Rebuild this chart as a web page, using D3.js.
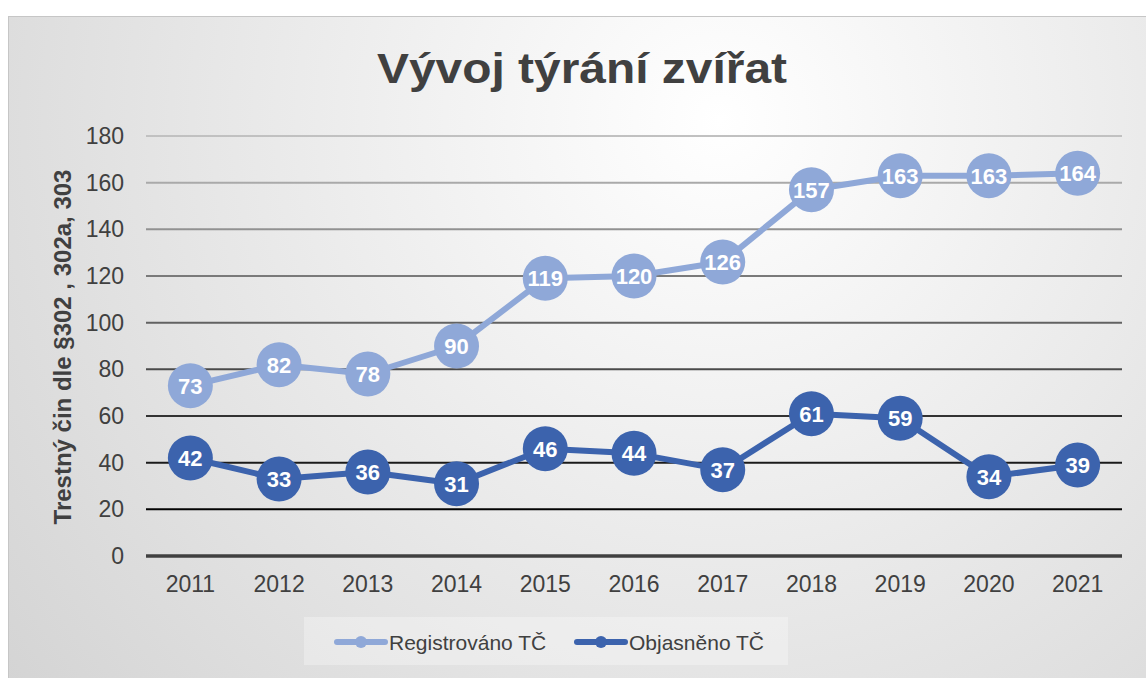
<!DOCTYPE html>
<html>
<head>
<meta charset="utf-8">
<script src="https://cdn.jsdelivr.net/npm/d3@7"></script>
<style>
  body { margin: 0; background: #fff; }
  svg { display: block; font-family: "Liberation Sans", Arial, sans-serif; }
</style>
</head>
<body>
<svg id="chart" width="1146" height="678"></svg>
<script>
// data
const years = ["2011", "2012", "2013", "2014", "2015", "2016", "2017", "2018", "2019", "2020", "2021"];
const registered = [73, 82, 78, 90, 119, 120, 126, 157, 163, 163, 164];
const solved = [42, 33, 36, 31, 46, 44, 37, 61, 59, 34, 39];
const yTicks = [0, 20, 40, 60, 80, 100, 120, 140, 160, 180];
const seriesNames = ["Registrováno TČ", "Objasněno TČ"];
const seriesColors = ["#8fa8d8", "#3c63ad"];

const svg = d3.select("#chart");
const W = 1146, H = 678;
const font = "Liberation Sans, Arial, sans-serif";

// background
const defs = svg.append("defs");
const bg = defs.append("radialGradient")
  .attr("id", "bg")
  .attr("gradientUnits", "userSpaceOnUse")
  .attr("cx", 720).attr("cy", 120).attr("r", 950);
bg.append("stop").attr("offset", "0").attr("stop-color", "#ffffff");
bg.append("stop").attr("offset", "1").attr("stop-color", "#d2d2d2");

const gridGrad = defs.append("linearGradient")
  .attr("id", "gridGrad")
  .attr("gradientUnits", "userSpaceOnUse")
  .attr("x1", 0).attr("x2", 0).attr("y1", 130).attr("y2", 515);
gridGrad.append("stop").attr("offset", "0").attr("stop-color", "#c4c4c4");
gridGrad.append("stop").attr("offset", "1").attr("stop-color", "#000000");

svg.append("rect")
  .attr("x", 8.5).attr("y", 16.5)
  .attr("width", W - 8).attr("height", H)
  .attr("fill", "url(#bg)")
  .attr("stroke", "#c6c6c6");

// scales
const x = d3.scaleBand().domain(years).range([146, 1122]);
const y = d3.scaleLinear().domain([0, 180]).range([556, 136]);

// title
svg.append("text")
  .attr("x", 377).attr("y", 83)
  .attr("font-size", 42).attr("font-weight", "bold")
  .attr("textLength", 410).attr("lengthAdjust", "spacingAndGlyphs")
  .attr("fill", "#404040")
  .text("Vývoj týrání zvířat");

// grid
svg.append("g")
  .selectAll("line")
  .data(yTicks.filter(d => d > 0))
  .join("line")
  .attr("x1", 146).attr("x2", 1122)
  .attr("y1", d => y(d)).attr("y2", d => y(d) + 0.01)
  .attr("stroke", "url(#gridGrad)")
  .attr("stroke-width", 2);

svg.append("line")
  .attr("x1", 146).attr("x2", 1122)
  .attr("y1", y(0)).attr("y2", y(0))
  .attr("stroke", "#404040")
  .attr("stroke-width", 3.5);

// axes
const yAxis = svg.append("g")
  .attr("transform", "translate(124,0)")
  .call(d3.axisLeft(y).tickValues(yTicks).tickSize(0).tickPadding(0));
yAxis.select(".domain").remove();
yAxis.selectAll("text")
  .attr("font-size", 23).attr("fill", "#404040")
  .attr("font-family", font);

const xAxis = svg.append("g")
  .attr("transform", "translate(0," + y(0) + ")")
  .call(d3.axisBottom(x).tickSize(0).tickPadding(20));
xAxis.select(".domain").remove();
xAxis.selectAll("text")
  .attr("font-size", 23).attr("fill", "#404040")
  .attr("font-family", font);

// y axis title
svg.append("text")
  .attr("transform", "translate(71,347) rotate(-90)")
  .attr("text-anchor", "middle")
  .attr("font-size", 24).attr("font-weight", "bold")
  .attr("fill", "#404040")
  .text("Trestný čin dle §302 , 302a, 303");

// series
const cx = d => x(d) + x.bandwidth() / 2;
const line = d3.line().x((d, i) => cx(years[i])).y(d => y(d));

[registered, solved].forEach((vals, s) => {
  const g = svg.append("g");
  g.append("path")
    .datum(vals)
    .attr("d", line)
    .attr("fill", "none")
    .attr("stroke", seriesColors[s])
    .attr("stroke-width", 6)
    .attr("stroke-linejoin", "round");
  g.selectAll("circle")
    .data(vals)
    .join("circle")
    .attr("cx", (d, i) => cx(years[i]))
    .attr("cy", d => y(d))
    .attr("r", 22.5)
    .attr("fill", seriesColors[s]);
  g.selectAll("text")
    .data(vals)
    .join("text")
    .attr("x", (d, i) => cx(years[i]))
    .attr("y", d => y(d) + 8)
    .attr("text-anchor", "middle")
    .attr("font-size", 22).attr("font-weight", "bold")
    .attr("fill", "#ffffff")
    .text(d => d);
});

// legend
svg.append("rect")
  .attr("x", 304).attr("y", 617)
  .attr("width", 484).attr("height", 48)
  .attr("fill", "#ffffff").attr("fill-opacity", 0.3);

const legendX = [337, 577];
seriesNames.forEach((name, s) => {
  const lg = svg.append("g").attr("transform", "translate(" + legendX[s] + ",642)");
  lg.append("line")
    .attr("x1", 0).attr("x2", 48)
    .attr("stroke", seriesColors[s]).attr("stroke-width", 6)
    .attr("stroke-linecap", "round");
  lg.append("circle").attr("cx", 24).attr("r", 6).attr("fill", seriesColors[s]);
  lg.append("text")
    .attr("x", 52).attr("y", 8)
    .attr("font-size", 21).attr("fill", "#404040")
    .text(name);
});
</script>
</body>
</html>
